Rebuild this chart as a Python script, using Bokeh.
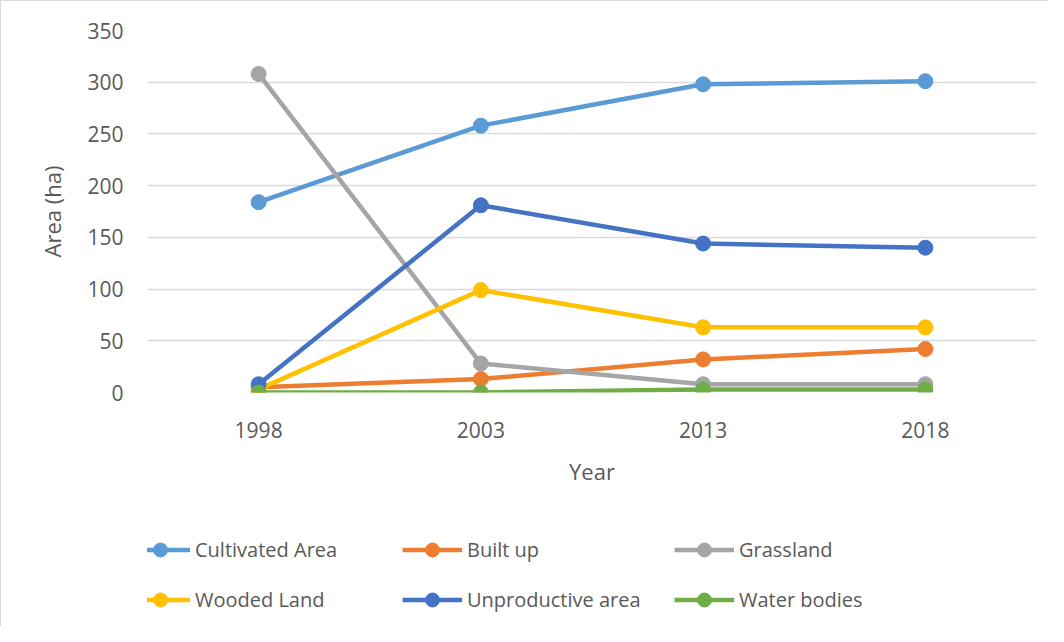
from bokeh.plotting import figure
from bokeh.models import Legend, LegendItem, FactorRange, Range1d
from bokeh.layouts import column
from bokeh.embed import file_html
from bokeh.resources import INLINE

years = ["1998", "2003", "2013", "2018"]
cultivated = [184, 258, 298, 301]
built_up = [5, 13, 32, 42]
grassland = [308, 28, 8, 8]
wooded = [3, 99, 63, 63]
unproductive = [8, 181, 144, 140]
water = [0, 0, 3, 3]

series = [
    ("Cultivated Area", cultivated, "#5B9BD5"),
    ("Built up", built_up, "#ED7D31"),
    ("Grassland", grassland, "#A5A5A5"),
    ("Wooded Land", wooded, "#FFC000"),
    ("Unproductive area", unproductive, "#4472C4"),
    ("Water bodies", water, "#70AD47"),
]

FONT = "Open Sans"
TXT = "#595959"

p = figure(width=1048, height=530, x_range=FactorRange(*years, range_padding=0),
           y_range=Range1d(0, 350), output_backend="svg", toolbar_location=None,
           min_border_left=146, min_border_right=13, min_border_top=29,
           min_border_bottom=139)
p.styles = {"border-top": "1px solid #D9D9D9", "border-left": "1px solid #D9D9D9"}
p.outline_line_color = None
p.background_fill_color = "white"
p.border_fill_color = "white"

p.xgrid.grid_line_color = None
p.ygrid.grid_line_color = "#D9D9D9"
p.ygrid.grid_line_width = 1.5
p.yaxis.ticker = [0, 50, 100, 150, 200, 250, 300, 350]

for ax in (p.xaxis[0], p.yaxis[0]):
    ax.axis_line_color = None
    ax.major_tick_line_color = None
    ax.minor_tick_line_color = None
    ax.major_label_text_font = FONT
    ax.major_label_text_font_size = "21px"
    ax.major_label_text_color = TXT
    ax.axis_label_text_font = FONT
    ax.axis_label_text_font_size = "22px"
    ax.axis_label_text_font_style = "normal"
    ax.axis_label_text_color = TXT

p.xaxis.axis_label = "Year"
p.xaxis.major_label_standoff = 23
p.xaxis.axis_label_standoff = 15
p.yaxis.axis_label = "Area (ha)"
p.yaxis.major_label_standoff = 18
p.yaxis.axis_label_standoff = 17

for name, vals, col in series:
    p.line(years, vals, line_color=col, line_width=4.5)
    p.scatter(years, vals, size=15, fill_color=col, line_color=col)

# legend panel (frame aligned with the chart above; proxies lie outside its view)
lg = figure(width=1048, height=96, x_range=FactorRange(*years, range_padding=0),
            y_range=Range1d(1000, 1001),
            output_backend="svg", toolbar_location=None,
            min_border_left=146, min_border_right=13, min_border_top=0,
            min_border_bottom=0)
lg.styles = {"border-left": "1px solid #D9D9D9"}
lg.axis.visible = False
lg.grid.visible = False
lg.outline_line_color = None

items = {}
for name, vals, col in series:
    ln = lg.line(years, vals, line_color=col, line_width=4.5)
    sc = lg.scatter(years, vals, size=15, fill_color=col, line_color=col)
    items[name] = LegendItem(label=name, renderers=[ln, sc])

# column-major order so rows read as in the reference
order = ["Cultivated Area", "Wooded Land", "Built up", "Unproductive area",
         "Grassland", "Water bodies"]

legend = Legend(items=[items[n] for n in order], ncols=3, location=(-17, 9),
                glyph_width=60, glyph_height=35, label_standoff=5,
                label_width=192, label_height=35, spacing=15, padding=0,
                margin=0, border_line_color=None, background_fill_alpha=0,
                label_text_font=FONT, label_text_font_size="20px",
                label_text_color=TXT)
lg.add_layout(legend, "center")

layout = column(p, lg, spacing=0)
open("out.html", "w").write(file_html(layout, INLINE))
